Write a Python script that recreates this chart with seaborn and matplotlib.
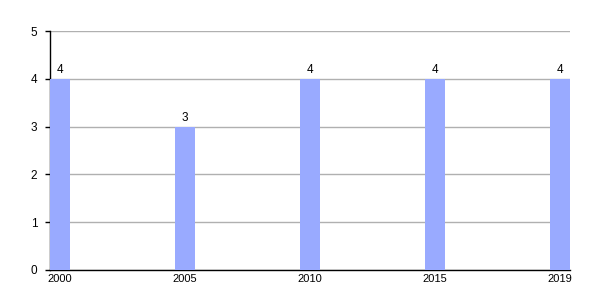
import matplotlib
matplotlib.use("Agg")
import matplotlib.pyplot as plt
import seaborn as sns
import pandas as pd

years = ["2000", "2005", "2010", "2015", "2019"]
values = [4, 3, 4, 4, 4]
yticks = [0, 1, 2, 3, 4, 5]

sns.set_theme(style="white")
plt.rcParams["font.family"] = ["Liberation Sans", "DejaVu Sans"]
plt.rcParams["text.color"] = "black"
plt.rcParams["xtick.color"] = "black"
plt.rcParams["ytick.color"] = "black"
plt.rcParams["ytick.left"] = True
plt.rcParams["ytick.direction"] = "out"

df = pd.DataFrame({"year": years, "value": values})
fig = plt.figure(figsize=(6, 3), dpi=100)
ax = fig.add_axes([50/600, 30/300, 520/600, 239/300])
sns.barplot(data=df, x="year", y="value", color="#99aaff", saturation=1,
            width=0.16, linewidth=0, ax=ax, zorder=3)
ax.set_xlim(-0.08, 4.08)
ax.set_ylim(0, 5)
ax.set_yticks(yticks)
ax.set_yticklabels([str(t) for t in yticks], fontsize=8.5)
ax.tick_params(axis="y", length=3.6, width=1, color="black", labelcolor="black",
               pad=5.5, left=True, direction="out")
ax.tick_params(axis="x", length=0, pad=3, labelsize=8, labelcolor="black")
ax.yaxis.grid(True, color="#b0b0b0", linewidth=1, zorder=0)
ax.set_axisbelow(True)
for s in ["top", "right"]:
    ax.spines[s].set_visible(False)
ax.spines["left"].set_color("black")
ax.spines["bottom"].set_color("black")
ax.spines["left"].set_linewidth(1)
ax.spines["bottom"].set_linewidth(1)
ax.set_xlabel("")
ax.set_ylabel("")
for c in ax.containers:
    ax.bar_label(c, labels=[str(v) for v in values], fontsize=8.5, padding=2,
                 color="black")
fig.savefig("out.png", dpi=100)
